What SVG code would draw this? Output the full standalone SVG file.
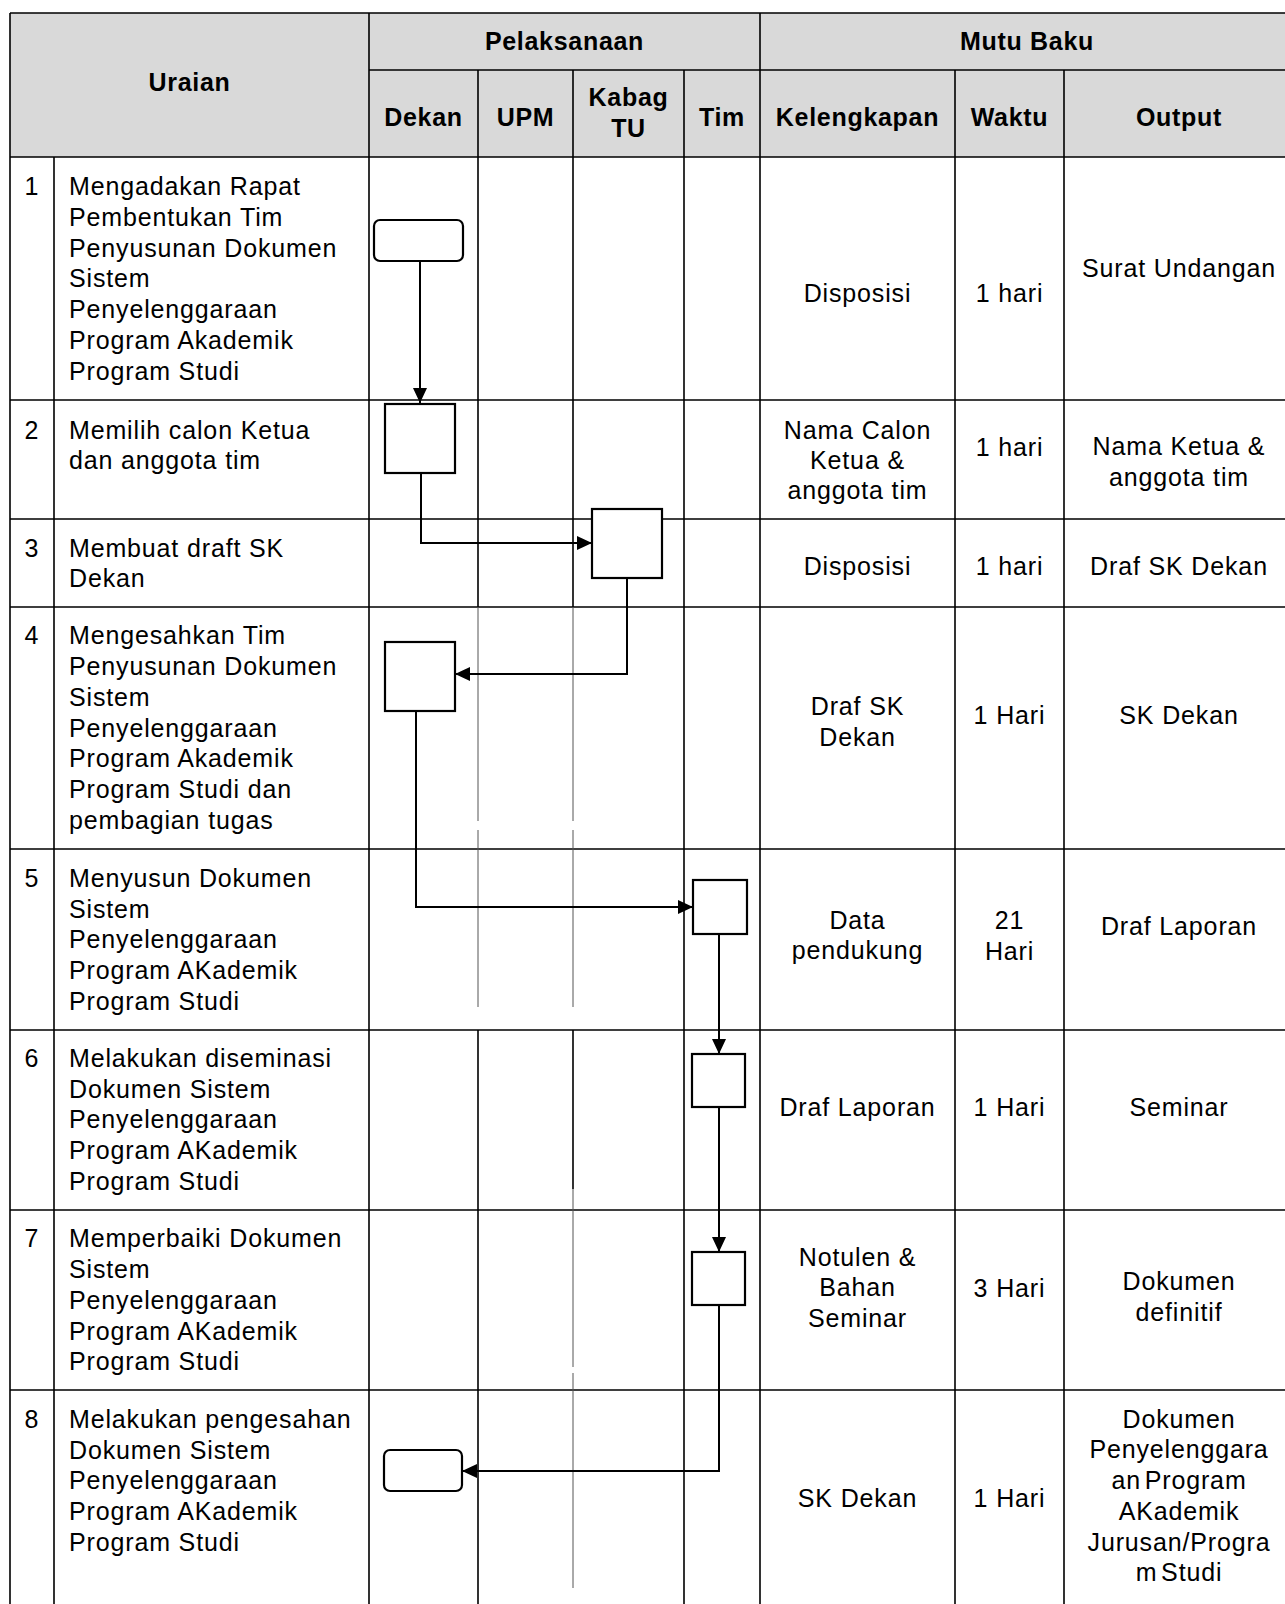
<svg xmlns="http://www.w3.org/2000/svg" width="1285" height="1604" viewBox="0 0 1285 1604">
<defs>
<style>
.grid{stroke:#000;stroke-width:1.6;fill:none}
.thin{stroke:#555;stroke-width:1;fill:none}
.node{fill:#fff;stroke:#000;stroke-width:2.2}
.conn{stroke:#000;stroke-width:2;fill:none}
.t{font-family:"Liberation Sans",Arial,sans-serif;font-size:25px;letter-spacing:0.85px;fill:#000}
.c{text-anchor:middle}
.h{font-family:"Liberation Sans",Arial,sans-serif;font-size:25px;font-weight:bold;letter-spacing:0.7px;fill:#000;text-anchor:middle}
</style>
<marker id="arr" markerUnits="userSpaceOnUse" markerWidth="15" markerHeight="14" refX="15" refY="7" orient="auto">
<path d="M0,0 L15,7 L0,14 z" fill="#000"/>
</marker>
</defs>
<rect x="0" y="0" width="1285" height="1604" fill="#fff"/>
<g id="table">
<rect x="10" y="13" width="1284" height="144" fill="#d9d9d9"/>
<path class="grid" d="M10,13 H1294 M369,70 H1294 M10,157 H1294 M10,400 H1294 M10,519 H1294 M10,607 H1294 M10,849 H1294 M10,1030 H1294 M10,1210 H1294 M10,1390 H1294"/>
<path class="grid" d="M10,13 V1610 M54,157 V1610 M369,13 V1610 M760,13 V1610 M1294,13 V1610 M478,70 V607 M573,70 V607 M684,70 V1610 M955,70 V1610 M1064,70 V1610 M478,1030 V1610 M573,1030 V1189"/>
<path class="thin" d="M478,607 V821 M478,830 V1007 M573,607 V821 M573,830 V1007 M573,1189 V1367 M573,1373 V1588"/>
</g>
<g id="headers">
<text class="h" x="189.5" y="91">Uraian</text>
<text class="h" x="564.5" y="50">Pelaksanaan</text>
<text class="h" x="1027" y="50">Mutu Baku</text>
<text class="h" x="423.5" y="126">Dekan</text>
<text class="h" x="525.5" y="126">UPM</text>
<text class="h" x="628.5" y="106">Kabag</text>
<text class="h" x="628.5" y="137">TU</text>
<text class="h" x="722" y="126">Tim</text>
<text class="h" x="857.5" y="126">Kelengkapan</text>
<text class="h" x="1009.5" y="126">Waktu</text>
<text class="h" x="1179" y="126">Output</text>
</g>
<g id="row1">
<text class="t c" x="32" y="195">1</text>
<text class="t" x="69" y="195">Mengadakan Rapat</text>
<text class="t" x="69" y="225.8">Pembentukan Tim</text>
<text class="t" x="69" y="256.6">Penyusunan Dokumen</text>
<text class="t" x="69" y="287.4">Sistem</text>
<text class="t" x="69" y="318.2">Penyelenggaraan</text>
<text class="t" x="69" y="349">Program Akademik</text>
<text class="t" x="69" y="379.8">Program Studi</text>
<text class="t c" x="857.5" y="302">Disposisi</text>
<text class="t c" x="1009.5" y="302">1 hari</text>
<text class="t c" x="1179" y="277">Surat Undangan</text>
</g>
<g id="row2">
<text class="t c" x="32" y="439">2</text>
<text class="t" x="69" y="439.3">Memilih calon Ketua</text>
<text class="t" x="69" y="469.3">dan anggota tim</text>
<text class="t c" x="857.5" y="439.3">Nama Calon</text>
<text class="t c" x="857.5" y="469.3">Ketua &amp;</text>
<text class="t c" x="857.5" y="498.5">anggota tim</text>
<text class="t c" x="1009.5" y="456">1 hari</text>
<text class="t c" x="1179" y="455">Nama Ketua &amp;</text>
<text class="t c" x="1179" y="486">anggota tim</text>
</g>
<g id="row3">
<text class="t c" x="32" y="557.3">3</text>
<text class="t" x="69" y="557.3">Membuat draft SK</text>
<text class="t" x="69" y="587.3">Dekan</text>
<text class="t c" x="857.5" y="575">Disposisi</text>
<text class="t c" x="1009.5" y="575">1 hari</text>
<text class="t c" x="1179" y="575">Draf SK Dekan</text>
</g>
<g id="row4">
<text class="t c" x="32" y="644.3">4</text>
<text class="t" x="69" y="644.3">Mengesahkan Tim</text>
<text class="t" x="69" y="675">Penyusunan Dokumen</text>
<text class="t" x="69" y="705.8">Sistem</text>
<text class="t" x="69" y="736.6">Penyelenggaraan</text>
<text class="t" x="69" y="767.4">Program Akademik</text>
<text class="t" x="69" y="798.2">Program Studi dan</text>
<text class="t" x="69" y="828.5">pembagian tugas</text>
<text class="t c" x="857.5" y="715">Draf SK</text>
<text class="t c" x="857.5" y="746">Dekan</text>
<text class="t c" x="1009.5" y="724">1 Hari</text>
<text class="t c" x="1179" y="724">SK Dekan</text>
</g>
<g id="row5">
<text class="t c" x="32" y="886.7">5</text>
<text class="t" x="69" y="886.7">Menyusun Dokumen</text>
<text class="t" x="69" y="917.5">Sistem</text>
<text class="t" x="69" y="948.3">Penyelenggaraan</text>
<text class="t" x="69" y="979">Program AKademik</text>
<text class="t" x="69" y="1009.5">Program Studi</text>
<text class="t c" x="857.5" y="929.3">Data</text>
<text class="t c" x="857.5" y="959.3">pendukung</text>
<text class="t c" x="1009.5" y="929.3">21</text>
<text class="t c" x="1009.5" y="960">Hari</text>
<text class="t c" x="1179" y="935">Draf Laporan</text>
</g>
<g id="row6">
<text class="t c" x="32" y="1066.7">6</text>
<text class="t" x="69" y="1066.7">Melakukan diseminasi</text>
<text class="t" x="69" y="1097.5">Dokumen Sistem</text>
<text class="t" x="69" y="1128.3">Penyelenggaraan</text>
<text class="t" x="69" y="1159">Program AKademik</text>
<text class="t" x="69" y="1189.5">Program Studi</text>
<text class="t c" x="857.5" y="1116">Draf Laporan</text>
<text class="t c" x="1009.5" y="1116">1 Hari</text>
<text class="t c" x="1179" y="1116">Seminar</text>
</g>
<g id="row7">
<text class="t c" x="32" y="1247.3">7</text>
<text class="t" x="69" y="1247.3">Memperbaiki Dokumen</text>
<text class="t" x="69" y="1278.1">Sistem</text>
<text class="t" x="69" y="1308.9">Penyelenggaraan</text>
<text class="t" x="69" y="1339.7">Program AKademik</text>
<text class="t" x="69" y="1370.3">Program Studi</text>
<text class="t c" x="857.5" y="1266">Notulen &amp;</text>
<text class="t c" x="857.5" y="1296">Bahan</text>
<text class="t c" x="857.5" y="1326.7">Seminar</text>
<text class="t c" x="1009.5" y="1296.7">3 Hari</text>
<text class="t c" x="1179" y="1290">Dokumen</text>
<text class="t c" x="1179" y="1320.7">definitif</text>
</g>
<g id="row8">
<text class="t c" x="32" y="1427.7">8</text>
<text class="t" x="69" y="1427.7">Melakukan pengesahan</text>
<text class="t" x="69" y="1458.5">Dokumen Sistem</text>
<text class="t" x="69" y="1489.3">Penyelenggaraan</text>
<text class="t" x="69" y="1520">Program AKademik</text>
<text class="t" x="69" y="1550.5">Program Studi</text>
<text class="t c" x="857.5" y="1507.3">SK Dekan</text>
<text class="t c" x="1009.5" y="1507.3">1 Hari</text>
<text class="t c" x="1179" y="1427.7">Dokumen</text>
<text class="t c" x="1179" y="1458.3">Penyelenggara</text>
<text class="t c" x="1179" y="1489" word-spacing="-4">an Program</text>
<text class="t c" x="1179" y="1520">AKademik</text>
<text class="t c" x="1179" y="1550.7">Jurusan/Progra</text>
<text class="t c" x="1179" y="1580.7" word-spacing="-4">m Studi</text>
</g>
<g id="connectors">
<path class="conn" marker-end="url(#arr)" d="M420,261 V403"/>
<path class="conn" marker-end="url(#arr)" d="M421,473 V543 H592"/>
<path class="conn" marker-end="url(#arr)" d="M627,578 V674 H455"/>
<path class="conn" marker-end="url(#arr)" d="M416,711 V907 H693"/>
<path class="conn" marker-end="url(#arr)" d="M719,934 V1054"/>
<path class="conn" marker-end="url(#arr)" d="M719,1107 V1252"/>
<path class="conn" marker-end="url(#arr)" d="M719,1305 V1471 H462"/>
</g>
<g id="node1"><rect class="node" x="374" y="220" width="89" height="41" rx="6"/></g>
<g id="node2"><rect class="node" x="385" y="404" width="70" height="69"/></g>
<g id="node3"><rect class="node" x="592" y="509" width="70" height="69"/></g>
<g id="node4"><rect class="node" x="385" y="642" width="70" height="69"/></g>
<g id="node5"><rect class="node" x="693" y="880" width="54" height="54"/></g>
<g id="node6"><rect class="node" x="692" y="1054" width="53" height="53"/></g>
<g id="node7"><rect class="node" x="692" y="1252" width="53" height="53"/></g>
<g id="node8"><rect class="node" x="384" y="1450" width="78" height="41" rx="6"/></g>
</svg>
